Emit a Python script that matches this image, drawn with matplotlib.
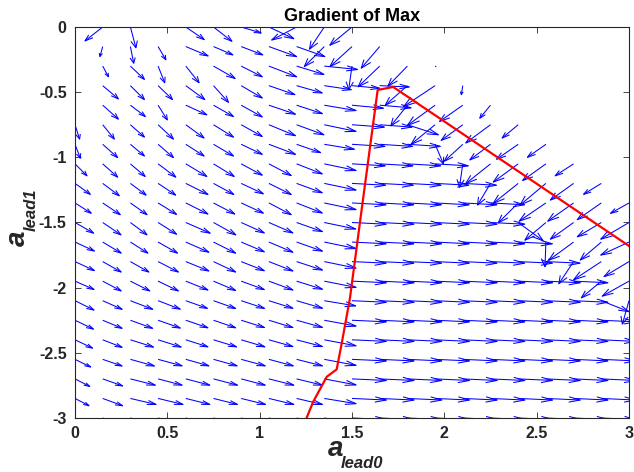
import numpy as np
import matplotlib
matplotlib.use("Agg")
import matplotlib.pyplot as plt
from matplotlib.collections import LineCollection

# grid of sample points
x_grid = [0.0, 0.15, 0.3, 0.45, 0.6, 0.75, 0.9, 1.05, 1.2, 1.35, 1.5,
          1.65, 1.8, 1.95, 2.1, 2.25, 2.4, 2.55, 2.7, 2.85, 3.0]
y_grid = [0.0, -0.15, -0.3, -0.45, -0.6, -0.75, -0.9, -1.05, -1.2, -1.35, -1.5,
          -1.65, -1.8, -1.95, -2.1, -2.25, -2.4, -2.55, -2.7, -2.85, -3.0]

# gradient components, one row per y value (top to bottom)
u_rows = [
    [0, -0.096, 0.03, 0, 0.10, 0.10, 0.108, 0.135, -0.135, -0.08, -0.12, 0, 0, 0, 0, 0, 0, 0, 0, 0, 0],
    [0, -0.015, 0.018, 0.042, 0.121, 0.105, 0.117, 0.15, 0.153, -0.108, -0.119, -0.10, 0, 0, 0, 0, 0, 0, 0, 0, 0],
    [0, 0.031, 0.076, 0.036, 0.072, 0.117, 0.114, 0.15, 0.148, 0.18, -0.018, -0.117, -0.105, 0.004, 0, 0, 0, 0, 0, 0, 0],
    [0, 0.085, 0.076, 0.078, 0.103, 0.081, 0.114, 0.141, 0.139, 0.146, 0.15, 0.16, -0.12, -0.17, -0.008, 0, 0, 0, 0, 0, 0],
    [0, 0.085, 0.081, 0.05, 0.114, 0.108, 0.114, 0.144, 0.14, 0.172, 0.17, 0.17, -0.09, -0.15, -0.126, -0.058, 0, 0, 0, 0, 0],
    [0.025, 0.063, 0.076, 0.083, 0.099, 0.108, 0.114, 0.144, 0.148, 0.172, 0.175, 0.175, 0.168, -0.13, -0.117, -0.134, -0.087, 0, 0, 0, 0],
    [0.029, 0.081, 0.076, 0.083, 0.099, 0.108, 0.114, 0.144, 0.13, 0.163, 0.178, 0.178, 0.178, 0.045, -0.10, -0.112, -0.117, -0.10, 0, 0, 0],
    [0.065, 0.081, 0.08, 0.096, 0.114, 0.112, 0.114, 0.121, 0.139, 0.172, 0.18, 0.18, 0.18, 0.18, -0.018, -0.135, -0.135, -0.126, -0.10, 0, 0],
    [0.083, 0.09, 0.085, 0.095, 0.12, 0.11, 0.12, 0.121, 0.139, 0.172, 0.182, 0.182, 0.182, 0.182, 0.182, -0.07, -0.135, -0.14, -0.126, -0.096, 0],
    [0.088, 0.095, 0.09, 0.10, 0.12, 0.115, 0.12, 0.121, 0.139, 0.172, 0.184, 0.184, 0.184, 0.184, 0.184, 0.184, -0.108, -0.145, -0.14, -0.13, -0.10],
    [0.101, 0.099, 0.09, 0.10, 0.132, 0.121, 0.125, 0.13, 0.14, 0.17, 0.185, 0.185, 0.185, 0.185, 0.185, 0.185, 0.135, -0.114, -0.126, -0.13, -0.153],
    [0.105, 0.10, 0.095, 0.105, 0.125, 0.12, 0.125, 0.13, 0.14, 0.172, 0.185, 0.185, 0.185, 0.185, 0.185, 0.185, 0.185, -0.005, -0.135, -0.114, -0.153],
    [0.105, 0.10, 0.10, 0.11, 0.125, 0.12, 0.125, 0.13, 0.14, 0.172, 0.185, 0.185, 0.185, 0.185, 0.185, 0.185, 0.185, 0.185, -0.08, -0.15, -0.135],
    [0.103, 0.10, 0.105, 0.11, 0.12, 0.12, 0.125, 0.13, 0.14, 0.172, 0.186, 0.186, 0.186, 0.186, 0.186, 0.186, 0.186, 0.186, 0.186, -0.108, -0.145],
    [0.103, 0.105, 0.121, 0.12, 0.117, 0.12, 0.126, 0.13, 0.14, 0.17, 0.186, 0.186, 0.186, 0.186, 0.186, 0.186, 0.186, 0.186, 0.186, 0.15, -0.036],
    [0.10, 0.105, 0.12, 0.12, 0.12, 0.12, 0.126, 0.13, 0.14, 0.172, 0.186, 0.186, 0.186, 0.186, 0.186, 0.186, 0.186, 0.186, 0.186, 0.186, 0.186],
    [0.095, 0.105, 0.125, 0.125, 0.12, 0.125, 0.128, 0.13, 0.14, 0.172, 0.186, 0.186, 0.186, 0.186, 0.186, 0.186, 0.186, 0.186, 0.186, 0.186, 0.186],
    [0.085, 0.105, 0.13, 0.13, 0.125, 0.128, 0.13, 0.132, 0.14, 0.172, 0.186, 0.186, 0.186, 0.186, 0.186, 0.186, 0.186, 0.186, 0.186, 0.186, 0.186],
    [0.08, 0.108, 0.135, 0.13, 0.13, 0.13, 0.13, 0.135, 0.14, 0.172, 0.186, 0.186, 0.186, 0.186, 0.186, 0.186, 0.186, 0.186, 0.186, 0.186, 0.186],
    [0.076, 0.108, 0.139, 0.135, 0.13, 0.13, 0.132, 0.135, 0.14, 0.172, 0.186, 0.186, 0.186, 0.186, 0.186, 0.186, 0.186, 0.186, 0.186, 0.186, 0.186],
    [0.076, 0.108, 0.139, 0.135, 0.13, 0.13, 0.132, 0.135, 0.14, 0.172, 0.186, 0.186, 0.186, 0.186, 0.186, 0.186, 0.186, 0.186, 0.186, 0.186, 0.186],
]
v_rows = [
    [0, -0.107, -0.16, 0, -0.097, -0.11, -0.046, -0.09, -0.10, -0.17, -0.14, 0, 0, 0, 0, 0, 0, 0, 0, 0, 0],
    [0, -0.077, -0.128, -0.102, -0.072, -0.064, -0.064, -0.077, -0.077, -0.153, -0.153, -0.166, 0, 0, 0, 0, 0, 0, 0, 0, 0],
    [0, -0.082, -0.102, -0.128, -0.128, -0.095, -0.082, -0.082, -0.064, -0.026, -0.18, -0.159, -0.153, -0.004, 0, 0, 0, 0, 0, 0, 0],
    [0, -0.102, -0.107, -0.107, -0.107, -0.128, -0.095, -0.069, -0.056, -0.031, -0.02, -0.01, -0.15, -0.16, -0.069, 0, 0, 0, 0, 0, 0],
    [0, -0.107, -0.087, -0.113, -0.074, -0.087, -0.09, -0.069, -0.065, -0.041, -0.023, -0.02, -0.159, -0.155, -0.125, -0.10, 0, 0, 0, 0, 0],
    [-0.11, -0.11, -0.095, -0.11, -0.102, -0.095, -0.09, -0.084, -0.077, -0.051, -0.018, -0.018, -0.077, -0.15, -0.12, -0.14, -0.102, 0, 0, 0, 0],
    [-0.107, -0.102, -0.09, -0.102, -0.09, -0.09, -0.077, -0.077, -0.064, -0.038, -0.016, -0.016, -0.016, -0.15, -0.13, -0.12, -0.115, -0.10, 0, 0, 0],
    [-0.092, -0.102, -0.097, -0.102, -0.097, -0.097, -0.087, -0.09, -0.077, -0.051, -0.015, -0.015, -0.015, -0.015, -0.18, -0.153, -0.14, -0.128, -0.092, 0, 0],
    [-0.084, -0.095, -0.09, -0.09, -0.085, -0.085, -0.08, -0.085, -0.072, -0.051, -0.014, -0.014, -0.014, -0.014, -0.014, -0.166, -0.153, -0.166, -0.128, -0.084, 0],
    [-0.079, -0.09, -0.09, -0.088, -0.085, -0.085, -0.078, -0.09, -0.077, -0.051, -0.014, -0.014, -0.014, -0.014, -0.014, -0.014, -0.153, -0.14, -0.14, -0.128, -0.08],
    [-0.082, -0.095, -0.095, -0.09, -0.082, -0.095, -0.08, -0.08, -0.07, -0.05, -0.013, -0.013, -0.013, -0.013, -0.013, -0.013, -0.14, -0.136, -0.128, -0.11, -0.128],
    [-0.069, -0.085, -0.085, -0.085, -0.078, -0.085, -0.075, -0.078, -0.07, -0.05, -0.013, -0.013, -0.013, -0.013, -0.013, -0.013, -0.013, -0.19, -0.14, -0.138, -0.10],
    [-0.069, -0.08, -0.08, -0.08, -0.072, -0.08, -0.07, -0.072, -0.065, -0.05, -0.012, -0.012, -0.012, -0.012, -0.012, -0.012, -0.012, -0.012, -0.17, -0.14, -0.115],
    [-0.064, -0.075, -0.075, -0.075, -0.068, -0.072, -0.065, -0.068, -0.062, -0.048, -0.012, -0.012, -0.012, -0.012, -0.012, -0.012, -0.012, -0.012, -0.012, -0.128, -0.115],
    [-0.072, -0.066, -0.066, -0.065, -0.059, -0.06, -0.059, -0.058, -0.058, -0.04, -0.012, -0.012, -0.012, -0.012, -0.012, -0.012, -0.012, -0.012, -0.012, -0.084, -0.18],
    [-0.068, -0.062, -0.062, -0.06, -0.058, -0.058, -0.056, -0.056, -0.055, -0.045, -0.012, -0.012, -0.012, -0.012, -0.012, -0.012, -0.012, -0.012, -0.012, -0.012, -0.012],
    [-0.064, -0.058, -0.056, -0.056, -0.054, -0.054, -0.054, -0.052, -0.052, -0.046, -0.012, -0.012, -0.012, -0.012, -0.012, -0.012, -0.012, -0.012, -0.012, -0.012, -0.012],
    [-0.059, -0.051, -0.051, -0.05, -0.05, -0.05, -0.05, -0.05, -0.05, -0.046, -0.012, -0.012, -0.012, -0.012, -0.012, -0.012, -0.012, -0.012, -0.012, -0.012, -0.012],
    [-0.058, -0.054, -0.048, -0.048, -0.048, -0.048, -0.048, -0.048, -0.048, -0.046, -0.012, -0.012, -0.012, -0.012, -0.012, -0.012, -0.012, -0.012, -0.012, -0.012, -0.012],
    [-0.056, -0.056, -0.046, -0.046, -0.046, -0.046, -0.046, -0.046, -0.046, -0.04, -0.012, -0.012, -0.012, -0.012, -0.012, -0.012, -0.012, -0.012, -0.012, -0.012, -0.012],
    [-0.056, -0.056, -0.046, -0.046, -0.046, -0.046, -0.046, -0.046, -0.046, -0.04, -0.012, -0.012, -0.012, -0.012, -0.012, -0.012, -0.012, -0.012, -0.012, -0.012, -0.012],
]

# boundary where the max switches
boundary_x = [1.254, 1.29, 1.363, 1.417, 1.444, 1.489, 1.552, 1.639, 1.723, 3.0]
boundary_y = [-3.0, -2.875, -2.684, -2.627, -2.43, -2.08, -1.404, -0.483, -0.46, -1.68]

x_ticks = [0, 0.5, 1, 1.5, 2, 2.5, 3]
x_tick_labels = ["0", "0.5", "1", "1.5", "2", "2.5", "3"]
y_ticks = [-3, -2.5, -2, -1.5, -1, -0.5, 0]
y_tick_labels = ["-3", "-2.5", "-2", "-1.5", "-1", "-0.5", "0"]

plt.rcParams["font.family"] = ["Liberation Sans", "DejaVu Sans"]
plt.rcParams["font.weight"] = "bold"

W, H = 634, 472
fig = plt.figure(figsize=(W / 100, H / 100), dpi=100)
ax = fig.add_axes([75 / W, 1 - 418 / H, 554 / W, 391 / H])

# quiver arrows drawn matlab-style: shaft plus open head
X, Y = np.meshgrid(np.array(x_grid), np.array(y_grid))
U = np.array(u_rows, dtype=float)
V = np.array(v_rows, dtype=float)
keep = (U != 0) | (V != 0)
x, y, u, v = X[keep], Y[keep], U[keep], V[keep]
alpha, beta = 0.33, 0.33
tx, ty = x + u, y + v
hx1 = tx - alpha * (u + beta * v)
hy1 = ty - alpha * (v - beta * u)
hx2 = tx - alpha * (u - beta * v)
hy2 = ty - alpha * (v + beta * u)

segs = []
for i in range(len(x)):
    segs.append([(x[i], y[i]), (tx[i], ty[i])])
    segs.append([(hx1[i], hy1[i]), (tx[i], ty[i]), (hx2[i], hy2[i])])
ax.add_collection(LineCollection(segs, colors="#0000ff", linewidths=0.75))

ax.plot(boundary_x, boundary_y, color="#ff0000", lw=1.6)

ax.set_xlim(0, 3)
ax.set_ylim(-3, 0)
ax.set_xticks(x_ticks)
ax.set_xticklabels(x_tick_labels)
ax.set_yticks(y_ticks)
ax.set_yticklabels(y_tick_labels)
ax.tick_params(direction="in", top=True, right=True, length=4, width=0.6,
               colors="#262626", labelsize=11.5, pad=6)
for s in ax.spines.values():
    s.set_color("#262626")
    s.set_linewidth(0.8)

ax.set_title("Gradient of Max", fontsize=13, fontweight="bold", pad=4)

# axis labels with lowered subscripts
fig.text(328 / W, 1 - 456 / H, "a", fontsize=20, style="italic",
         fontweight="bold", color="#262626")
fig.text(341 / W, 1 - 468 / H, "lead0", fontsize=12, style="italic",
         fontweight="bold", color="#262626")
fig.text(25 / W, 1 - 246 / H, "a", fontsize=20, style="italic",
         fontweight="bold", color="#262626", rotation=90,
         rotation_mode="anchor", ha="left", va="baseline")
fig.text(36 / W, 1 - 231 / H, "lead1", fontsize=12, style="italic",
         fontweight="bold", color="#262626", rotation=90,
         rotation_mode="anchor", ha="left", va="baseline")

fig.savefig("out.png", dpi=100)
